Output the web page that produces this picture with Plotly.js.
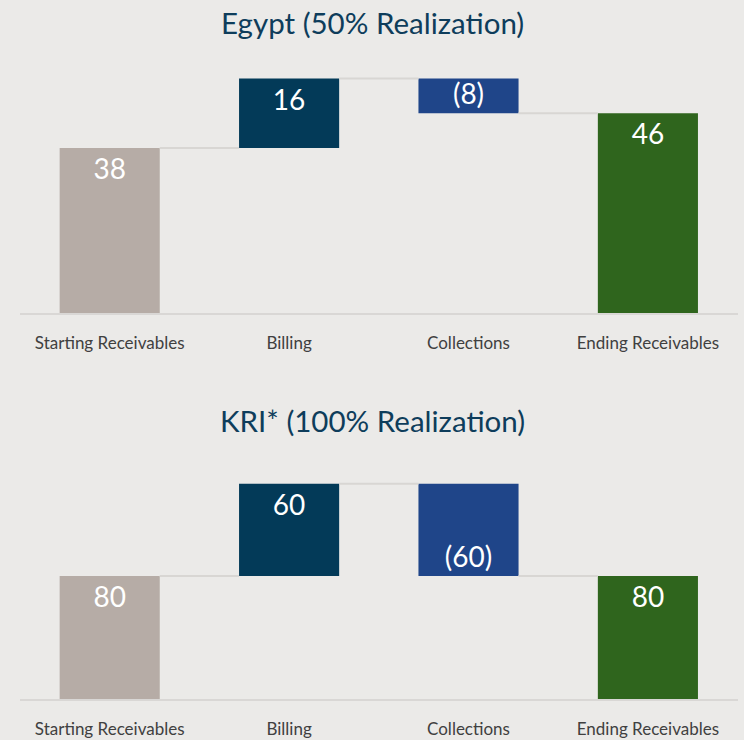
<!DOCTYPE html>
<html>
<head>
<meta charset="utf-8">
<script src="https://cdn.plot.ly/plotly-3.0.1.min.js"></script>
<style>
html,body{margin:0;padding:0;background:#ebeae8;}
#chart{width:744px;height:740px;}
</style>
</head>
<body>
<div id="chart"></div>
<script>
// ---- data ----
const categories = ['Starting Receivables', 'Billing', 'Collections', 'Ending Receivables'];
const measures = ['absolute', 'relative', 'relative', 'total'];
const egyptValues = [38, 16, -8, 46];
const kriValues = [80, 60, -60, 80];
const egyptTitle = 'Egypt (50% Realization)';
const kriTitle = 'KRI* (100% Realization)';
const barColors = ['#b6aca6', '#033a58', '#1f4589', '#2f651d'];

// ---- helpers ----
const BAR_W = 0.558;
const FONT = 'Lato, "Open Sans", sans-serif';

function fmt(v) { return v < 0 ? '(' + Math.abs(v) + ')' : String(v); }

function waterfall(values, xa, ya) {
  const x = [], y = [], base = [], text = [];
  let running = 0;
  const levels = [];
  values.forEach((v, i) => {
    x.push(i);
    if (measures[i] === 'absolute' || measures[i] === 'total') {
      base.push(0); y.push(v); running = v;
    } else {
      base.push(running); y.push(v); running += v;
    }
    levels.push(running);
    text.push(fmt(v));
  });
  const bars = {
    type: 'bar', x: x, y: y, base: base, width: BAR_W,
    marker: {color: barColors, line: {width: 0}},
    text: text, textposition: 'inside', insidetextanchor: 'end',
    textangle: 0, constraintext: 'none',
    insidetextfont: {family: FONT, size: 28, color: '#ffffff'},
    xaxis: xa, yaxis: ya, hoverinfo: 'none', cliponaxis: false
  };
  const cx = [], cy = [];
  for (let i = 0; i < values.length - 1; i++) {
    cx.push(i + BAR_W / 2, i + 1 - BAR_W / 2, null);
    cy.push(levels[i], levels[i], null);
  }
  const conn = {
    type: 'scatter', mode: 'lines', x: cx, y: cy,
    line: {color: '#d8d6d3', width: 2},
    xaxis: xa, yaxis: ya, hoverinfo: 'none'
  };
  return [conn, bars];
}

const data = [].concat(waterfall(egyptValues, 'x', 'y'), waterfall(kriValues, 'x2', 'y2'));

const xCommon = {
  range: [-0.5, 3.5], domain: [20 / 744, 737.6 / 744],
  tickvals: [0, 1, 2, 3], ticktext: categories,
  showgrid: false, zeroline: false,
  showline: true, linecolor: '#d9d7d5', linewidth: 2,
  ticks: '', ticklabelstandoff: 14,
  tickfont: {family: FONT, size: 17, color: '#404040'},
  fixedrange: true
};
const yCommon = {visible: false, showgrid: false, zeroline: false, fixedrange: true};

const layout = {
  width: 744, height: 740,
  margin: {l: 0, r: 0, t: 0, b: 0},
  paper_bgcolor: '#ebeae8', plot_bgcolor: 'rgba(0,0,0,0)',
  showlegend: false, barmode: 'overlay', hovermode: false,
  xaxis: Object.assign({}, xCommon, {anchor: 'y'}),
  yaxis: Object.assign({}, yCommon, {domain: [1 - 313 / 740, 1 - 40 / 740], range: [0, 62.87]}),
  xaxis2: Object.assign({}, xCommon, {anchor: 'y2'}),
  yaxis2: Object.assign({}, yCommon, {domain: [1 - 699 / 740, 1 - 440 / 740], range: [0, 168.5]}),
  annotations: [
    {text: egyptTitle, xref: 'paper', yref: 'paper', x: 0.5, y: 1 - 22 / 740,
     xanchor: 'center', yanchor: 'middle', showarrow: false,
     font: {family: FONT, size: 29.5, color: '#0e3d5b'}},
    {text: kriTitle, xref: 'paper', yref: 'paper', x: 0.5, y: 1 - 420 / 740,
     xanchor: 'center', yanchor: 'middle', showarrow: false,
     font: {family: FONT, size: 29.5, color: '#0e3d5b'}}
  ]
};

Plotly.newPlot('chart', data, layout, {staticPlot: true, displayModeBar: false});
</script>
</body>
</html>
